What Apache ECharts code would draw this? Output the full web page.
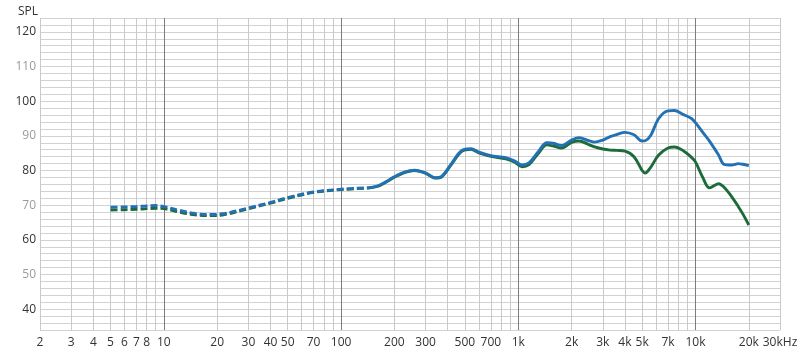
<!DOCTYPE html>
<html>
<head>
<meta charset="utf-8">
<script src="https://cdn.jsdelivr.net/npm/echarts@6/dist/echarts.min.js"></script>
<style>
  html, body { margin: 0; padding: 0; background: #fff; }
  #chart { width: 800px; height: 355px; }
</style>
</head>
<body>
<div id="chart"></div>
<script>
const chart = echarts.init(document.getElementById('chart'));

// Frequencies (Hz) of the sampled points, shared by both curves
const freqs = [5, 6, 7, 8, 9, 10, 12, 15, 18, 22, 30, 40, 50, 70, 100, 140,
  160, 180, 200, 230, 260, 300, 340, 370, 420, 480, 540, 600, 700, 850, 950,
  1050, 1150, 1300, 1450, 1600, 1750, 2000, 2200, 2500, 2700, 3000, 3300,
  3600, 4000, 4500, 5000, 5200, 5600, 6200, 7000, 7600, 8500, 9500, 10000,
  11000, 12000, 13500, 14500, 16000, 17500, 18500, 20000];

const blueSpl = [69.4, 69.5, 69.6, 69.8, 69.9, 69.6, 68.6, 67.6, 67.3, 67.6,
  69.2, 70.8, 72.2, 73.8, 74.6, 75.0, 75.5, 76.8, 78.2, 79.6, 80.1, 79.3,
  77.9, 78.3, 82.0, 85.8, 86.3, 85.3, 84.3, 83.7, 82.8, 81.6, 82.2, 85.5,
  88.0, 87.8, 87.2, 88.8, 89.5, 88.6, 88.2, 88.8, 89.8, 90.4, 91.0, 90.3,
  88.5, 88.6, 90.2, 95.0, 97.2, 97.3, 96.2, 95.0, 93.8, 91.0, 88.5, 84.5,
  81.8, 81.6, 82.0, 81.8, 81.4];

const greenSpl = [68.6, 68.7, 68.8, 69.0, 69.1, 69.0, 68.1, 67.2, 67.0, 67.3,
  69.0, 70.6, 72.0, 73.7, 74.5, 74.9, 75.4, 76.7, 78.1, 79.5, 80.0, 79.2,
  77.8, 78.2, 81.8, 85.5, 86.1, 85.1, 84.1, 83.4, 82.5, 81.1, 81.7, 85.0,
  87.4, 87.0, 86.5, 88.1, 88.5, 87.5, 86.8, 86.2, 85.9, 85.8, 85.6, 84.0,
  80.0, 79.3, 81.0, 84.5, 86.5, 86.8, 85.8, 83.8, 82.5, 78.0, 75.0, 76.2,
  75.2, 72.5, 69.5, 67.5, 64.3];

// Below this frequency the curves are drawn dashed
const dashEnd = 140;

const xLabels = [2, 3, 4, 5, 6, 7, 8, 10, 20, 30, 40, 50, 70, 100, 200, 300,
  500, 700, 1000, 2000, 3000, 4000, 5000, 7000, 10000, 20000, 30000];
const decades = [10, 100, 1000, 10000];

const fMin = 2;
const fMax = 30000;

// Grid lines at 2..9 of every decade
const gridFreqs = [];
[1, 10, 100, 1000, 10000].forEach((d) => {
  for (let m = 1; m <= 9; m++) {
    const f = m * d;
    if (f >= fMin && f <= fMax) gridFreqs.push(f);
  }
});

const lg = (f) => Math.log10(f);

function points(values, from, to) {
  const out = [];
  freqs.forEach((f, i) => {
    if (f >= from && f <= to) out.push([lg(f), values[i]]);
  });
  return out;
}

function fmtFreq(v) {
  const f = Math.round(Math.pow(10, v));
  if (f === 30000) return '30kHz';
  return f >= 1000 ? (f / 1000) + 'k' : String(f);
}

const blue = '#2271b5';
const green = '#1c6b3b';
const lineW = 2.9;

function curve(values, color, dashed) {
  return {
    type: 'line',
    data: dashed ? points(values, 0, dashEnd) : points(values, dashEnd, fMax),
    smooth: 0.35,
    showSymbol: false,
    lineStyle: { color: color, width: lineW, type: dashed ? [7, 3] : 'solid' },
    silent: true
  };
}

chart.setOption({
  animation: false,
  title: {
    text: 'SPL',
    left: 13,
    top: 1,
    textStyle: { fontFamily: 'Open Sans', fontSize: 12, fontWeight: 'normal', color: '#333' }
  },
  grid: { left: 40, right: 20, top: 18, bottom: 25, outerBoundsMode: 'none' },
  xAxis: [
    {
      type: 'value',
      min: lg(fMin),
      max: lg(fMax),
      axisLine: { show: false },
      axisTick: { show: false, customValues: gridFreqs.map(lg) },
      splitLine: { show: true, lineStyle: { color: '#c9c9c9', width: 1 } },
      axisLabel: {
        customValues: xLabels.map(lg),
        formatter: fmtFreq,
        color: '#333',
        fontFamily: 'Open Sans',
        fontSize: 12,
        margin: 7,
        showMinLabel: true,
        showMaxLabel: true
      }
    },
    {
      type: 'value',
      min: lg(fMin),
      max: lg(fMax),
      position: 'bottom',
      axisLine: { show: false },
      axisTick: { show: false, customValues: decades.map(lg) },
      axisLabel: { show: false },
      splitLine: { show: true, lineStyle: { color: '#7d7d7d', width: 1 } }
    }
  ],
  yAxis: {
    type: 'value',
    min: 34,
    max: 124,
    interval: 2,
    axisLine: { show: false },
    axisTick: { show: false },
    splitLine: { show: true, lineStyle: { color: '#d2d2d2', width: 1 } },
    axisLabel: {
      margin: 4,
      fontFamily: 'Open Sans',
      fontSize: 12,
      formatter: (v) => {
        if (v % 10 !== 0) return '';
        return v % 20 === 0 ? '{a|' + v + '}' : '{b|' + v + '}';
      },
      rich: {
        a: { color: '#333', fontFamily: 'Open Sans', fontSize: 12 },
        b: { color: '#9a9a9a', fontFamily: 'Open Sans', fontSize: 12 }
      }
    }
  },
  series: [
    curve(greenSpl, green, true),
    curve(greenSpl, green, false),
    curve(blueSpl, blue, true),
    curve(blueSpl, blue, false)
  ]
});

window.addEventListener('resize', () => chart.resize());
</script>
</body>
</html>
